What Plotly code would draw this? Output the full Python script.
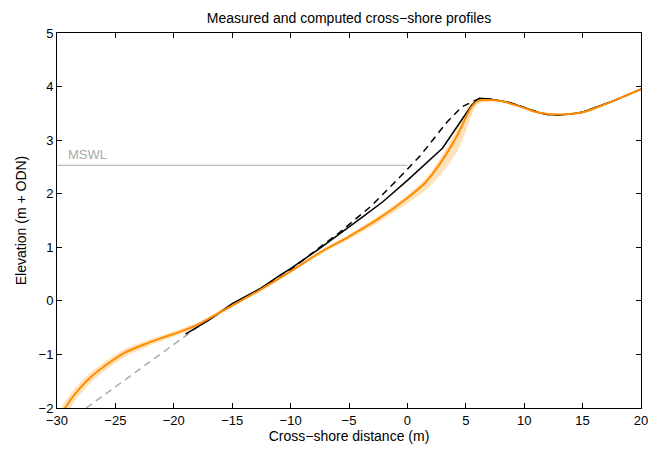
import plotly.graph_objects as go

# Computed profile (orange) and its uncertainty band offsets
comp_x = [-29.6, -28.5, -27.2, -26, -24.3, -22.5, -21, -19.5, -18, -16.5, -15, -12.5, -10, -7.5, -5, -2.5, 0,
          1.5, 2.5, 3.5, 4.3, 5, 5.5, 6, 7, 8, 9.6, 11.3, 13, 15, 17.5, 20]
comp_y = [-2.10, -1.75, -1.44, -1.23, -0.98, -0.81, -0.69, -0.58, -0.45, -0.27, -0.09, 0.22, 0.55, 0.90, 1.20,
          1.53, 1.92, 2.20, 2.47, 2.80, 3.10, 3.42, 3.62, 3.73, 3.75, 3.73, 3.63, 3.51, 3.48, 3.52, 3.72, 3.95]
band_up = [0.13, 0.11, 0.09, 0.08, 0.07, 0.06, 0.05, 0.05, 0.04, 0.04, 0.03, 0.03, 0.03, 0.03, 0.04, 0.05, 0.06,
           0.07, 0.09, 0.11, 0.13, 0.11, 0.07, 0.04, 0.02, 0.01, 0, 0, 0, 0, 0, 0]
band_dn = [0.15, 0.13, 0.11, 0.09, 0.08, 0.07, 0.06, 0.05, 0.05, 0.04, 0.03, 0.03, 0.03, 0.04, 0.05, 0.07, 0.10,
           0.14, 0.20, 0.26, 0.30, 0.26, 0.15, 0.06, 0.03, 0.01, 0, 0, 0, 0, 0, 0]

# Measured final profile (black solid)
meas_x = [-19, -17, -15, -12.6, -10.9, -10, -7.5, -5.8, -4, -2.1, 0, 3.0, 4.4, 5.0, 5.5, 5.9, 6.2, 7.0, 7.9, 8.8,
          9.6, 10.5, 11.3, 12, 13, 14, 15, 17.5, 20]
meas_y = [-0.62, -0.36, -0.05, 0.23, 0.48, 0.60, 0.98, 1.26, 1.54, 1.85, 2.25, 2.85, 3.30, 3.50, 3.65, 3.74, 3.78,
          3.77, 3.74, 3.70, 3.64, 3.57, 3.51, 3.48, 3.47, 3.49, 3.52, 3.72, 3.95]

# Measured initial profile (black dashed) and its extrapolation (grey dashed)
init_x = [-14.5, -10.6, -7.5, -5.9, -3.1, -1.8, -0.6, 1.1, 2.2, 3.4, 4.65, 5.5, 5.9, 6.2, 7.0, 7.9, 8.8, 9.6, 10.5,
          11.3, 12, 13, 14, 15, 17.5, 20]
init_y = [-0.02, 0.48, 1.00, 1.26, 1.77, 2.05, 2.32, 2.71, 3.01, 3.34, 3.62, 3.71, 3.75, 3.78, 3.77, 3.74, 3.70,
          3.64, 3.57, 3.51, 3.48, 3.47, 3.49, 3.52, 3.72, 3.95]
extrap_x = [-27.5, -17.7, -14.5]
extrap_y = [-2.0, -0.45, -0.02]

mswl_level = 2.53
mswl_x = [-30, 0]

font_family = "Liberation Sans, Arial, Helvetica, sans-serif"

upper = [y + u for y, u in zip(comp_y, band_up)]
lower = [y - d for y, d in zip(comp_y, band_dn)]

fig = go.Figure()
fig.add_trace(go.Scatter(x=mswl_x, y=[mswl_level] * 2, mode="lines",
                         line=dict(color="#BDBDBD", width=1.3), showlegend=False, hoverinfo="skip"))
fig.add_trace(go.Scatter(x=comp_x, y=upper, mode="lines", line=dict(width=0, shape="spline", smoothing=1),
                         showlegend=False, hoverinfo="skip"))
fig.add_trace(go.Scatter(x=comp_x, y=lower, mode="lines", line=dict(width=0, shape="spline", smoothing=1),
                         fill="tonexty", fillcolor="rgba(255,200,130,0.55)", showlegend=False, hoverinfo="skip"))
fig.add_trace(go.Scatter(x=extrap_x, y=extrap_y, mode="lines",
                         line=dict(color="#AAAAAA", width=1.5, dash="7px,5px"), showlegend=False))
fig.add_trace(go.Scatter(x=init_x, y=init_y, mode="lines",
                         line=dict(color="black", width=1.5, dash="7px,5px"), showlegend=False))
fig.add_trace(go.Scatter(x=meas_x, y=meas_y, mode="lines",
                         line=dict(color="black", width=1.5), showlegend=False))
fig.add_trace(go.Scatter(x=comp_x, y=comp_y, mode="lines",
                         line=dict(color="#FF8C00", width=2, shape="spline", smoothing=1), showlegend=False))

fig.add_annotation(x=-29.2, y=mswl_level, xref="x", yref="y", text="MSWL", showarrow=False,
                   xanchor="left", yanchor="bottom", yshift=1, font=dict(size=13, color="#AAAAAA", family=font_family))

axis_common = dict(showline=True, linecolor="black", linewidth=1, mirror="ticks", ticks="inside", ticklen=5,
                   tickcolor="black", tickwidth=1, showgrid=False, zeroline=False, automargin=False,
                   tickfont=dict(size=13, color="black", family=font_family))

# The page body adds an 8px offset, so the figure is sized to fit the window after it.
fig.update_layout(
    width=654, height=442,
    margin=dict(l=49, r=21, t=25, b=42),
    paper_bgcolor="white", plot_bgcolor="white",
    font=dict(family=font_family, color="black"),
    title=dict(text="Measured and computed cross\u2212shore profiles", x=0.5, xref="paper",
               y=1 - 10 / 442, yanchor="middle", automargin=False,
               font=dict(size=14, family=font_family, color="black")),
    xaxis=dict(range=[-30, 20], dtick=5, tick0=-30,
               title=dict(text="Cross\u2212shore distance (m)", standoff=3, font=dict(size=14)), **axis_common),
    yaxis=dict(range=[-2, 5], dtick=1, tick0=-2,
               title=dict(text="Elevation (m + ODN)", standoff=8, font=dict(size=14)), **axis_common),
)

fig.write_html("out.html")
